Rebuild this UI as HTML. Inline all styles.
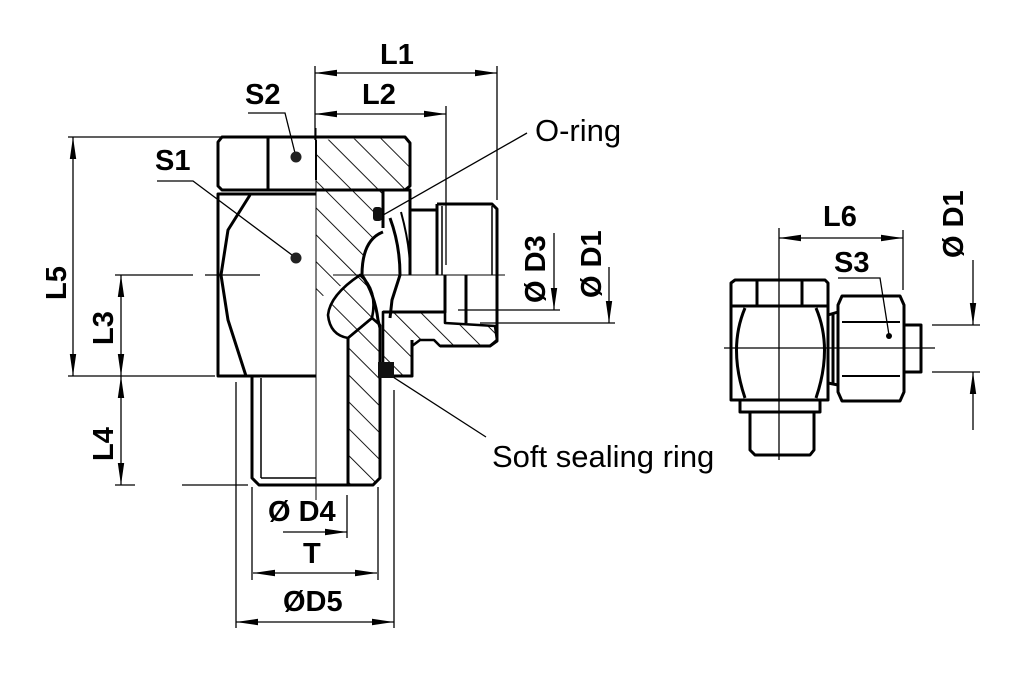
<!DOCTYPE html>
<html><head><meta charset="utf-8"><style>
html,body{margin:0;padding:0;background:#fff;}
svg{display:block;}
text{font-family:"Liberation Sans",sans-serif;fill:#000;}
</style></head><body>
<svg width="1019" height="682" viewBox="0 0 1019 682" xmlns="http://www.w3.org/2000/svg">
<defs>
<pattern id="h" patternUnits="userSpaceOnUse" width="19" height="19" patternTransform="rotate(-45)">
<line x1="0" y1="0" x2="0" y2="19" stroke="#000" stroke-width="1.8"/>
</pattern>
<marker id="a" viewBox="0 0 10 10" refX="10" refY="5" markerWidth="22" markerHeight="8" markerUnits="userSpaceOnUse" orient="auto-start-reverse" preserveAspectRatio="none">
<path d="M0,1 L10,5 L0,9 z" fill="#000"/>
</marker>
</defs>
<g fill="none" stroke="#000" stroke-width="1.3">
<line x1="68" y1="137" x2="222" y2="137"/>
<line x1="68" y1="376" x2="215" y2="376"/>
<line x1="73" y1="137" x2="73" y2="376" marker-start="url(#a)" marker-end="url(#a)"/>
<line x1="115" y1="275" x2="193" y2="275"/>
<line x1="205" y1="275" x2="260" y2="275"/>
<line x1="121" y1="275" x2="121" y2="376" marker-start="url(#a)" marker-end="url(#a)"/>
<line x1="121" y1="376" x2="121" y2="485" marker-start="url(#a)" marker-end="url(#a)"/>
<line x1="115" y1="485" x2="135" y2="485"/>
<line x1="182" y1="485" x2="248" y2="485"/>
<line x1="315" y1="66" x2="315" y2="140"/>
<line x1="497" y1="66" x2="497" y2="200"/>
<line x1="446" y1="106" x2="446" y2="265"/>
<line x1="315" y1="73" x2="497" y2="73" marker-start="url(#a)" marker-end="url(#a)"/>
<line x1="315" y1="114" x2="446" y2="114" marker-start="url(#a)" marker-end="url(#a)"/>
<polyline points="248,113 285,113 296,157"/>
<polyline points="157,181 193,181 296,258"/>
<line x1="527" y1="133" x2="378" y2="218"/>
<line x1="393" y1="377" x2="486" y2="437"/>
<line x1="554" y1="233" x2="554" y2="310" marker-end="url(#a)"/>
<line x1="458" y1="310" x2="560" y2="310"/>
<line x1="609" y1="267" x2="609" y2="323" marker-end="url(#a)"/>
<line x1="480" y1="323" x2="615" y2="323"/>
<line x1="236" y1="382" x2="236" y2="628"/>
<line x1="394" y1="390" x2="394" y2="628"/>
<line x1="252" y1="487" x2="252" y2="580"/>
<line x1="378" y1="487" x2="378" y2="580"/>
<line x1="347" y1="495" x2="347" y2="538"/>
<line x1="283" y1="532" x2="347" y2="532" marker-end="url(#a)"/>
<line x1="253" y1="573" x2="377" y2="573" marker-start="url(#a)" marker-end="url(#a)"/>
<line x1="236" y1="622" x2="394" y2="622" marker-start="url(#a)" marker-end="url(#a)"/>
<line x1="316" y1="128" x2="316" y2="500" stroke-width="1"/>
<line x1="333" y1="275" x2="505" y2="275" stroke-width="1"/>
</g>
<g stroke="#000" stroke-width="2.6" fill="url(#h)" stroke-linejoin="round">
<path d="M316,140 L405,137 L410,143 L410,190 L383,190 L383,228 L370,240 L362,262 L360,275 L330,292 L316,300 Z" stroke="none"/>
<path d="M360,275 Q378,290 372,318 L348,338 Q330,335 328,315 Q330,295 360,275 Z"/>
<path d="M348,338 L372,318 L380,325 L380,478 L373,485 L348,485 Z"/>
<path d="M383,312 L445,312 L445,323 L495,326 L497,340 L490,346 L440,346 L434,340 L420,340 L412,346 L412,376 L393,376 L383,370 Z"/>
</g>
<g fill="none" stroke="#000" stroke-width="3" stroke-linejoin="round">
<path d="M222,137 L405,137 L410,143 L410,186 L405,190 L222,190 L218,186 L218,142 Z"/>
<line x1="268" y1="138" x2="268" y2="189"/>
<path d="M316,194 L218,194 L218,376 L316,376"/>
<path d="M250,195 L228,230 L221,275 L228,320 L246,376"/>
<path d="M252,376 L252,478 L259,485 L373,485 L380,478 L380,325"/>
<line x1="261" y1="378" x2="261" y2="478" stroke-width="1.5"/>
<line x1="261" y1="478" x2="316" y2="478" stroke-width="1.5"/>
<line x1="348" y1="338" x2="348" y2="485"/>
<line x1="316" y1="140" x2="316" y2="180" stroke-width="2"/>
<path d="M383,228 L383,190 L410,190 L410,275"/>
<path d="M383,232 Q362,240 362,275 Q375,295 378,320 L380,328"/>
<path d="M390,218 Q400,245 400,275 L392,300 L390,318"/>
<path d="M401,212 Q410,245 410,270" stroke-width="2"/>
<path d="M410,210 L437,210"/>
<path d="M437,204 L492,204 L497,209 L497,341 L490,346 L440,346"/>
<line x1="437" y1="204" x2="437" y2="275"/>
<line x1="442" y1="206" x2="442" y2="275" stroke-width="1.5"/>
<line x1="492" y1="206" x2="492" y2="275" stroke-width="1.5"/>
<path d="M383,312 L445,312 L445,275"/>
<line x1="466" y1="275" x2="466" y2="323"/>
<path d="M412,340 L412,376 L380,376"/>
</g>
<circle cx="296" cy="157" r="5.5" fill="#222"/>
<circle cx="296" cy="258" r="5.5" fill="#222"/>
<rect x="373" y="207" width="9" height="14" rx="3" fill="#111"/>
<rect x="378" y="362" width="16" height="16" fill="#111"/>
<g fill="none" stroke="#000" stroke-width="1.3">
<line x1="779" y1="228" x2="779" y2="460"/>
<line x1="724" y1="348" x2="935" y2="348"/>
<line x1="903" y1="230" x2="903" y2="290"/>
<line x1="779" y1="238" x2="903" y2="238" marker-start="url(#a)" marker-end="url(#a)"/>
<line x1="932" y1="325" x2="980" y2="325"/>
<line x1="932" y1="372" x2="980" y2="372"/>
<line x1="973" y1="260" x2="973" y2="325" marker-end="url(#a)"/>
<line x1="973" y1="372" x2="973" y2="430" marker-start="url(#a)"/>
<polyline points="838,278 880,278 889,335"/>
</g>
<g fill="none" stroke="#000" stroke-width="3" stroke-linejoin="round">
<path d="M731,283 L735,280 L825,280 L828,283 L828,306 L731,306 Z"/>
<line x1="757" y1="281" x2="757" y2="305"/>
<line x1="802" y1="281" x2="802" y2="305"/>
<path d="M731,306 L828,306 L828,400 L731,400 Z"/>
<path d="M745,308 Q728,348 745,398"/>
<path d="M816,308 Q833,348 816,398"/>
<path d="M740,400 L820,400 L820,412 L740,412 Z"/>
<path d="M750,412 L750,450 L755,455 L810,455 L814,450 L814,412"/>
<path d="M828,315 L838,312 M828,383 L838,385"/>
<line x1="833" y1="314" x2="833" y2="384"/>
<path d="M842,296 L900,296 L904,305 L904,392 L900,401 L842,401 L838,392 L838,305 Z"/>
<path d="M842,322 L900,322 M842,376 L900,376" stroke-width="2"/>
<path d="M904,325 L921,325 L921,372 L904,372"/>
</g>
<circle cx="889" cy="336" r="3" fill="#000"/>
<g font-size="29" font-weight="bold">
<text x="245" y="104">S2</text>
<text x="155" y="170">S1</text>
<text x="380" y="64">L1</text>
<text x="362" y="104">L2</text>
<text x="823" y="226">L6</text>
<text x="834" y="272">S3</text>
<text x="268" y="521">Ø D4</text>
<text x="303" y="563">T</text>
<text x="283" y="611">ØD5</text>
<text transform="translate(66,300) rotate(-90)">L5</text>
<text transform="translate(113,345) rotate(-90)">L3</text>
<text transform="translate(113,461) rotate(-90)">L4</text>
<text transform="translate(545,303) rotate(-90)">Ø D3</text>
<text transform="translate(601,298) rotate(-90)">Ø D1</text>
<text transform="translate(963,258) rotate(-90)">Ø D1</text>
</g>
<text x="535" y="141" font-size="31">O-ring</text>
<text x="492" y="467" font-size="31">Soft sealing ring</text>
</svg>
</body></html>
